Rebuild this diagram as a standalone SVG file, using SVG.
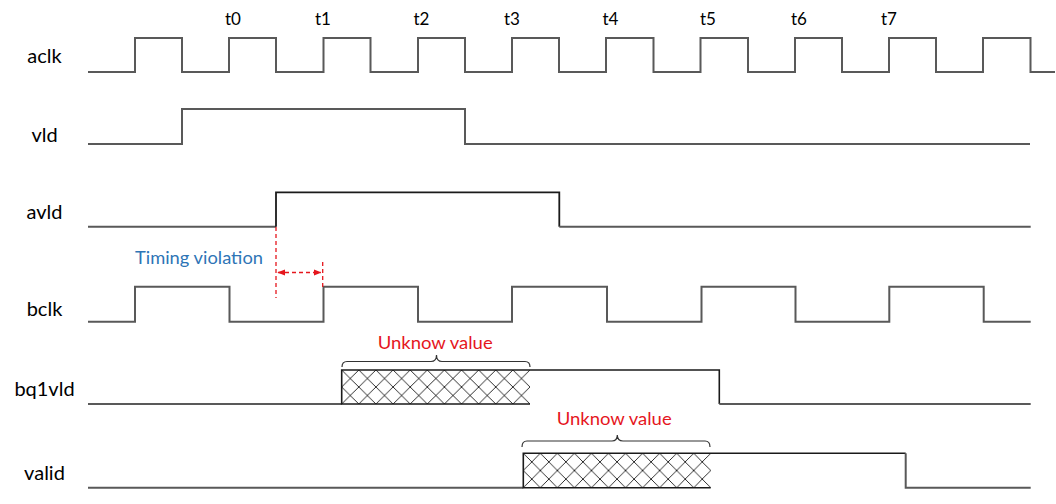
<svg xmlns="http://www.w3.org/2000/svg" width="1056" height="504" viewBox="0 0 1056 504">
<style>
.lbl{font-family:Lato,"Liberation Sans",sans-serif;font-size:20px;fill:#000;text-anchor:middle}
.tk{font-family:Lato,"Liberation Sans",sans-serif;font-size:17px;fill:#000;text-anchor:middle}
.red{font-family:Lato,"Liberation Sans",sans-serif;font-size:17px;fill:#e5161d}
.blue{font-family:Lato,"Liberation Sans",sans-serif;font-size:17px;fill:#2e75b6}
.sig{fill:none;stroke:#595959;stroke-width:2}
.sigd{fill:none;stroke:#1a1a1a;stroke-width:1.8}
.hb{fill:none;stroke:#1a1a1a;stroke-width:1.6}
.brace{fill:none;stroke:#333;stroke-width:1.2}
.dash{fill:none;stroke:#e5161d;stroke-width:1.3;stroke-dasharray:4 3}
</style>
<defs>
<pattern id="hatch1" patternUnits="userSpaceOnUse" x="341.7" y="370" width="17.12" height="17">
<path d="M0 0 L17.12 17 M0 17 L17.12 0" stroke="#1a1a1a" stroke-width="0.9"/>
</pattern>
<pattern id="hatch2" patternUnits="userSpaceOnUse" x="523.3" y="453.3" width="17.04" height="17.2">
<path d="M0 0 L17.04 17.2 M0 17.2 L17.04 0" stroke="#1a1a1a" stroke-width="0.9"/>
</pattern>
<marker id="ah" viewBox="0 0 10 10" refX="9" refY="5" markerWidth="6" markerHeight="6" orient="auto-start-reverse">
<path d="M0 1 L10 5 L0 9 Z" fill="#e5161d"/>
</marker>
</defs>

<g id="tick-labels">
<text class="tk" x="233" y="25">t0</text>
<text class="tk" x="323" y="25">t1</text>
<text class="tk" x="421.5" y="25">t2</text>
<text class="tk" x="512" y="25">t3</text>
<text class="tk" x="610.5" y="25">t4</text>
<text class="tk" x="708" y="25">t5</text>
<text class="tk" x="799" y="25">t6</text>
<text class="tk" x="889" y="25">t7</text>
</g>

<g id="aclk">
<text class="lbl" x="44.5" y="63">aclk</text>
<path class="sig" d="M88 72 H135 V38 H182 V72 H229 V38 H276 V72 H323.5 V38 H370.5 V72 H418 V38 H465 V72 H512 V38 H559 V72 H606 V38 H653.5 V72 H700.5 V38 H748 V72 H795 V38 H842 V72 H889 V38 H936 V72 H983 V38 H1030.5 V72 H1055"/>
</g>

<g id="vld">
<text class="lbl" x="44.5" y="142">vld</text>
<path class="sig" d="M88 144 H182 V109 H465 V144 H1030"/>
</g>

<g id="avld">
<text class="lbl" x="44.5" y="219">avld</text>
<path class="sig" d="M88 226.7 H276"/>
<path class="sigd" d="M276 226.7 V192.3 H559.3 V226.7"/>
<path class="sig" d="M559.3 226.7 H1030.7"/>
</g>

<g id="bclk">
<text class="lbl" x="44.5" y="315.5">bclk</text>
<path class="sig" d="M88 321.7 H135 V286.7 H229.5 V321.7 H323.5 V286.7 H418 V321.7 H512 V286.7 H607 V321.7 H701.5 V286.7 H795.5 V321.7 H889.3 V286.7 H983.7 V321.7 H1030.7"/>
</g>

<g id="bq1vld">
<text class="lbl" x="44.5" y="396">bq1vld</text>
<path class="sig" d="M88 404 H341.7"/>
<rect x="341.7" y="370" width="188.3" height="34" fill="url(#hatch1)"/>
<path class="hb" d="M530 404 H341.7 V370 H719.3 V404"/>
<path class="sig" d="M719.3 404 H1030.7"/>
</g>

<g id="valid">
<text class="lbl" x="44.5" y="480">valid</text>
<path class="sig" d="M88 487.7 H523.3"/>
<rect x="523.3" y="453.3" width="187.4" height="34.4" fill="url(#hatch2)"/>
<path class="hb" d="M710.7 487.7 H523.3 V453.3 H905.7"/>
<path class="sig" d="M905.7 453.3 V487.7 H1030.7"/>
</g>

<g id="unknown1">
<path class="brace" d="M342 367 Q342 361.5 347 361.5 H431 Q436.5 361.5 436.5 355 Q436.5 361.5 442 361.5 H525 Q530 361.5 530 367"/>
<text class="red" x="377.7" y="349" textLength="115" lengthAdjust="spacingAndGlyphs">Unknow value</text>
</g>

<g id="unknown2">
<path class="brace" d="M522 447 Q522 441 527 441 H612 Q617.3 441 617.3 435 Q617.3 441 623 441 H705 Q710 441 710 447"/>
<text class="red" x="556.7" y="425" textLength="115" lengthAdjust="spacingAndGlyphs">Unknow value</text>
</g>

<g id="timing-violation">
<text class="blue" x="135" y="264" textLength="128" lengthAdjust="spacingAndGlyphs">Timing violation</text>
<path class="dash" d="M276 227 V298"/>
<path class="dash" d="M322.7 262 V287"/>
<path class="dash" d="M278 272.5 H320.7" marker-start="url(#ah)" marker-end="url(#ah)"/>
</g>
</svg>
